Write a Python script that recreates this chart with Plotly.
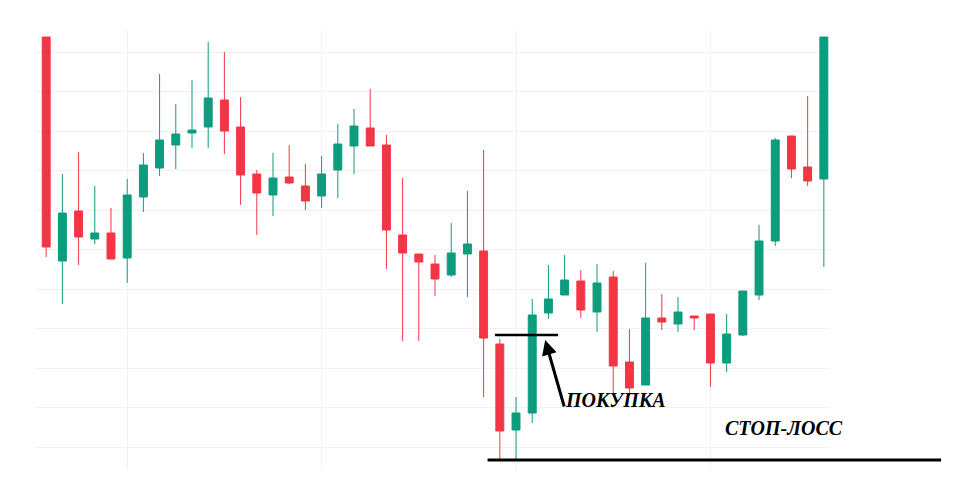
import plotly.graph_objects as go

# candles read as pixel heights (value = -pixel y)
opens  = [37,261,211,239,233,258,197,168,145,133,127,100,127,174,195,177,186,196,170,146,128,145,235,254,264,275,254,251,344,430,413,313,295,281,312,277,362,385,318,324,316,314,363,335,295,241,136,167,179]
closes = [247,213,237,233,259,195,165,140,134,130,98,131,175,193,178,183,201,174,144,126,146,230,253,262,279,253,244,338,431,413,315,299,280,310,283,366,388,318,322,312,318,363,334,291,241,140,169,181,37]
highs  = [37,174,152,186,208,179,153,74,104,80,42,52,97,170,153,145,164,156,124,109,89,135,178,254,255,223,191,150,339,397,299,265,255,270,264,271,329,263,294,297,316,314,314,291,225,138,136,96,37]
lows   = [257,304,265,244,259,283,212,176,169,148,148,154,205,235,216,184,210,208,198,174,146,269,341,341,296,277,297,397,460,460,423,319,295,318,332,394,396,385,330,332,330,387,372,336,300,246,178,186,267]

n = len(opens)
x = list(range(n))
neg = lambda a: [-v for v in a]

fig = go.Figure(go.Candlestick(
    x=x, open=neg(opens), close=neg(closes), high=neg(highs), low=neg(lows),
    increasing=dict(line=dict(color="#0e9c7e", width=1), fillcolor="#0e9c7e"),
    decreasing=dict(line=dict(color="#f23645", width=1), fillcolor="#f23645"),
    whiskerwidth=0, showlegend=False))

fig.update_layout(
    width=961, height=487, paper_bgcolor="white", plot_bgcolor="white",
    margin=dict(l=27, r=139, t=22, b=25),
    xaxis=dict(range=[-0.69, 48.38], rangeslider=dict(visible=False), showticklabels=False,
               showgrid=True, gridcolor="#f1f1f1", tick0=5, dtick=12, zeroline=False),
    yaxis=dict(range=[-470, -30], showticklabels=False, showgrid=True, gridcolor="#f1f1f1",
               tick0=-52, dtick=39.5, zeroline=False),
)

fig.add_shape(type="line", xref="paper", yref="paper", x0=(483-35)/787, x1=(932-35)/787,
              y0=(470-460)/440, y1=(470-460)/440, line=dict(color="black", width=3))
fig.add_shape(type="line", x0=27.7, x1=31.6, y0=-335, y1=-335, line=dict(color="black", width=2.5))
fig.add_annotation(x=30.8, y=-340, ax=32.0, ay=-408, axref="x", ayref="y",
                   showarrow=True, arrowhead=2, arrowsize=1, arrowwidth=3, arrowcolor="black", text="")
fig.add_annotation(xref="paper", yref="paper", x=(558-35)/787, y=(470-413)/440, xanchor="left",
                   text="<b><i>ПОКУПКА</i></b>", showarrow=False,
                   font=dict(family="Liberation Serif", size=20, color="black"))
fig.add_annotation(xref="paper", yref="paper", x=(716-35)/787, y=(470-441)/440, xanchor="left",
                   text="<b><i>СТОП-ЛОСС</i></b>", showarrow=False,
                   font=dict(family="Liberation Serif", size=20, color="black"))
fig.write_html("out.html")
